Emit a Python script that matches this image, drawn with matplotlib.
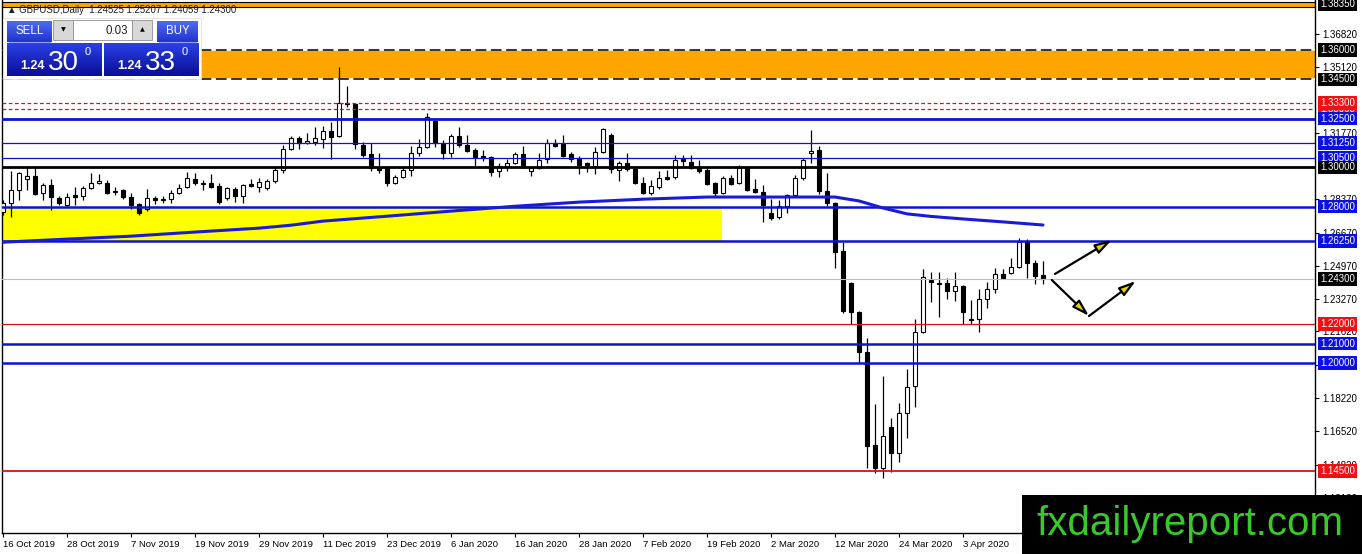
import numpy as np
import matplotlib
matplotlib.use('Agg')
import matplotlib.pyplot as plt
from matplotlib.patches import Rectangle
from matplotlib.transforms import blended_transform_factory
from matplotlib.colors import LinearSegmentedColormap

plt.rcParams['font.family'] = ['Liberation Sans', 'DejaVu Sans']

# GBPUSD daily candles, 16 Oct 2019 .. 17 Apr 2020
opens = [1.2773, 1.2819, 1.2885, 1.2941, 1.2957, 1.2870, 1.2911, 1.2844, 1.2808, 1.2860,
         1.2854, 1.2895, 1.2921, 1.2921, 1.2880, 1.2885, 1.2849, 1.2814, 1.2788, 1.2844,
         1.2839, 1.2839, 1.2870, 1.2900, 1.2941, 1.2921, 1.2921, 1.2905, 1.2844, 1.2890,
         1.2854, 1.2916, 1.2900, 1.2895, 1.2931, 1.2987, 1.3095, 1.3151, 1.3125, 1.3130,
         1.3146, 1.3187, 1.3161, 1.3330, 1.3325, 1.3115, 1.3069, 1.2998, 1.2998, 1.2921,
         1.2952, 1.2987, 1.3074, 1.3105, 1.3238, 1.3125, 1.3074, 1.3161, 1.3115, 1.3089,
         1.3059, 1.3054, 1.2982, 1.3008, 1.3023, 1.3069, 1.2982, 1.2998, 1.3044, 1.3125,
         1.3120, 1.3069, 1.3049, 1.3023, 1.3008, 1.3079, 1.3166, 1.2987, 1.3023, 1.2992,
         1.2921, 1.2870, 1.2900, 1.2952, 1.2952, 1.3044, 1.3028, 1.2998, 1.2987, 1.2921,
         1.2870, 1.2946, 1.2921, 1.2998, 1.2890, 1.2875, 1.2768, 1.2747, 1.2803, 1.2860,
         1.2946, 1.3074, 1.3089, 1.2880, 1.2819, 1.2573, 1.2410, 1.2262, 1.2057, 1.1582,
         1.1465, 1.1674, 1.1541, 1.1746, 1.1884, 1.2160, 1.2425, 1.2410, 1.2410, 1.2369,
         1.2395, 1.2226, 1.2226, 1.2328, 1.2379, 1.2456, 1.2461, 1.2492, 1.2619, 1.2512,
         1.24525]
highs = [1.2834, 1.2982, 1.2977, 1.3008, 1.3003, 1.2921, 1.2941, 1.2854, 1.2870, 1.2900,
         1.2905, 1.2972, 1.2967, 1.2936, 1.2900, 1.2890, 1.2870, 1.2819, 1.2890, 1.2854,
         1.2854, 1.2885, 1.2916, 1.2977, 1.2972, 1.2936, 1.2967, 1.2921, 1.2900, 1.2900,
         1.2916, 1.2941, 1.2946, 1.2941, 1.3003, 1.3115, 1.3161, 1.3161, 1.3176, 1.3207,
         1.3212, 1.3233, 1.3514, 1.3417, 1.3330, 1.3130, 1.3125, 1.3074, 1.3003, 1.2962,
         1.3008, 1.3110, 1.3146, 1.3279, 1.3243, 1.3141, 1.3171, 1.3207, 1.3166, 1.3100,
         1.3089, 1.3059, 1.3023, 1.3044, 1.3079, 1.3110, 1.3003, 1.3074, 1.3146, 1.3146,
         1.3166, 1.3079, 1.3059, 1.3028, 1.3105, 1.3202, 1.3176, 1.3033, 1.3074, 1.2998,
         1.2952, 1.2936, 1.2982, 1.2987, 1.3064, 1.3064, 1.3064, 1.3038, 1.3008, 1.2926,
         1.2957, 1.2962, 1.3013, 1.3003, 1.2941, 1.2911, 1.2839, 1.2834, 1.2865, 1.2962,
         1.3049, 1.3192, 1.3110, 1.2972, 1.2824, 1.2619, 1.2415, 1.2267, 1.2129, 1.1792,
         1.1935, 1.1720, 1.1797, 1.1970, 1.2226, 1.2481, 1.2466, 1.2466, 1.2435, 1.2466,
         1.2400, 1.2323, 1.2379, 1.2415, 1.2487, 1.2481, 1.2538, 1.2640, 1.2635, 1.2527,
         1.25207]
lows = [1.2757, 1.2747, 1.2834, 1.2885, 1.2860, 1.2834, 1.2783, 1.2808, 1.2798, 1.2808,
        1.2834, 1.2890, 1.2916, 1.2865, 1.2860, 1.2839, 1.2788, 1.2757, 1.2778, 1.2814,
        1.2819, 1.2819, 1.2865, 1.2895, 1.2911, 1.2885, 1.2895, 1.2814, 1.2834, 1.2824,
        1.2819, 1.2900, 1.2875, 1.2885, 1.2921, 1.2972, 1.3089, 1.3095, 1.3120, 1.3115,
        1.3100, 1.3044, 1.3156, 1.3309, 1.3095, 1.3054, 1.2982, 1.2972, 1.2905, 1.2916,
        1.2946, 1.2957, 1.3059, 1.3100, 1.3105, 1.3044, 1.3054, 1.3105, 1.3079, 1.3003,
        1.3033, 1.2957, 1.2952, 1.2982, 1.3018, 1.2998, 1.2957, 1.2992, 1.3023, 1.3105,
        1.3054, 1.3028, 1.2967, 1.2977, 1.2967, 1.3074, 1.2972, 1.2931, 1.2982, 1.2916,
        1.2865, 1.2860, 1.2890, 1.2936, 1.2941, 1.3003, 1.2992, 1.2972, 1.2911, 1.2849,
        1.2865, 1.2911, 1.2916, 1.2880, 1.2870, 1.2722, 1.2732, 1.2737, 1.2768, 1.2849,
        1.2936, 1.3023, 1.2865, 1.2803, 1.2487, 1.2257, 1.2200, 1.2001, 1.1465, 1.1439,
        1.1413, 1.1444, 1.1495, 1.1618, 1.1776, 1.2154, 1.2313, 1.2236, 1.2328, 1.2318,
        1.2200, 1.2200, 1.2160, 1.2282, 1.2359, 1.2430, 1.2456, 1.2487, 1.2435, 1.2405,
        1.24059]
closes = [1.2819, 1.2885, 1.2972, 1.2957, 1.2865, 1.2911, 1.2849, 1.2819, 1.2849, 1.2849,
          1.2895, 1.2921, 1.2931, 1.2870, 1.2875, 1.2849, 1.2808, 1.2768, 1.2844, 1.2834,
          1.2834, 1.2870, 1.2895, 1.2946, 1.2921, 1.2916, 1.2900, 1.2824, 1.2895, 1.2854,
          1.2911, 1.2905, 1.2926, 1.2931, 1.2987, 1.3095, 1.3151, 1.3125, 1.3136, 1.3151,
          1.3187, 1.3156, 1.3330, 1.3325, 1.3120, 1.3064, 1.2998, 1.2987, 1.2921, 1.2952,
          1.2987, 1.3074, 1.3105, 1.3258, 1.3125, 1.3074, 1.3161, 1.3115, 1.3084, 1.3054,
          1.3049, 1.2977, 1.3008, 1.3023, 1.3069, 1.3003, 1.2998, 1.3038, 1.3125, 1.3110,
          1.3059, 1.3044, 1.3013, 1.3013, 1.3079, 1.3197, 1.2992, 1.3023, 1.2992, 1.2921,
          1.2870, 1.2905, 1.2946, 1.2941, 1.3038, 1.3033, 1.2998, 1.2982, 1.2916, 1.2870,
          1.2946, 1.2916, 1.2998, 1.2885, 1.2875, 1.2808, 1.2742, 1.2803, 1.2860, 1.2946,
          1.3038, 1.3084, 1.2880, 1.2819, 1.2568, 1.2267, 1.2262, 1.2057, 1.1577, 1.1465,
          1.1628, 1.1541, 1.1746, 1.1878, 1.2160, 1.2441, 1.2415, 1.2405, 1.2369, 1.2395,
          1.2262, 1.2221, 1.2328, 1.2379, 1.2456, 1.2435, 1.2492, 1.2619, 1.2512, 1.2446,
          1.24300]

date_labels = ['16 Oct 2019', '28 Oct 2019', '7 Nov 2019', '19 Nov 2019', '29 Nov 2019',
               '11 Dec 2019', '23 Dec 2019', '6 Jan 2020', '16 Jan 2020', '28 Jan 2020',
               '7 Feb 2020', '19 Feb 2020', '2 Mar 2020', '12 Mar 2020', '24 Mar 2020',
               '3 Apr 2020']
bars_per_label = 8

# moving average, sampled along the bars
ma_bars = [0, 8, 16, 24, 32, 36, 40, 48, 56, 64, 72, 80, 88, 96, 104, 107, 110, 113, 116, 120, 125, 130]
ma_vals = [1.2618, 1.2634, 1.2649, 1.2670, 1.2690, 1.2705, 1.2726, 1.2751, 1.2777, 1.2802, 1.2823,
           1.2838, 1.2849, 1.2849, 1.2849, 1.2829, 1.2793, 1.2763, 1.2750, 1.2737, 1.2722, 1.2706]

# horizontal levels
level_prices = [1.3600, 1.3450, 1.3330, 1.3300, 1.3250, 1.3125, 1.3050, 1.3000,
                1.2800, 1.2625, 1.2430, 1.2200, 1.2100, 1.2000, 1.1450]
BLUE = '#0c14d0'
RED = '#d01515'
level_colors = ['black', 'black', RED, RED, BLUE, BLUE, BLUE, 'black',
                BLUE, BLUE, '#bdbdbd', RED, BLUE, BLUE, RED]
level_widths = [1.1, 1.1, 0.9, 0.9, 2.0, 0.9, 0.9, 2.0, 1.8, 1.8, 0.8, 0.9, 1.8, 1.8, 1.3]
level_styles = [(0, (7, 3)), (0, (7, 3)), (0, (3, 2)), (0, (3, 2)), '-', '-', '-', '-',
                '-', '-', '-', '-', '-', '-', '-']

# zones
supply_zone = (1.3450, 1.3600)
demand_zone = (1.2625, 1.2800)
demand_zone_end = 89.9
top_band = (1.3820, 1.3846)

# right-hand price tags
tag_prices = [1.38350, 1.36000, 1.34500, 1.33000, 1.33300, 1.32500, 1.31250, 1.30500,
              1.30000, 1.28000, 1.26250, 1.24300, 1.22000, 1.21000, 1.20000, 1.14500]
tag_colors = ['black', 'black', 'black', '#ee1111', '#ee1111', '#0a10e0', '#0a10e0', '#0a10e0',
              'black', '#0a10e0', '#0a10e0', 'black', '#ee1111', '#0a10e0', '#0a10e0', '#ee1111']
scale_ticks = [1.36820, 1.35120, 1.31770, 1.28370, 1.26670, 1.24970, 1.23270, 1.21620,
               1.19920, 1.18220, 1.16520, 1.14820, 1.13120]

# projection arrows (bar index, price)
arrow_paths = [((131.5, 1.2456), (138.6, 1.2630)),
               ((131.1, 1.2425), (135.75, 1.2241)),
               ((135.75, 1.2241), (141.6, 1.2420))]

W, H = 1362, 554
fig = plt.figure(figsize=(W / 100, H / 100), dpi=100)
fig.patch.set_facecolor('white')
ax = fig.add_axes([2 / W, 21 / H, 1313 / W, 533 / H])
ax.set_xlim(-0.125, 164)
ax.set_ylim(1.1132, 1.3856)

# background zones
ax.axhspan(*supply_zone, color='#ffa500', zorder=1, lw=0)
ax.axhspan(*top_band, fc='#ffa500', ec='black', lw=0.8, zorder=1)
ax.add_patch(Rectangle((-0.6, demand_zone[0]), demand_zone_end + 0.6,
                       demand_zone[1] - demand_zone[0], fc='#ffff00', ec='none', zorder=1))

# candles
x = np.arange(len(opens))
o = np.array(opens)
c = np.array(closes)
up = c >= o
ax.vlines(x, lows, highs, color='black', lw=0.9, zorder=3)
body_lo = np.minimum(o, c)
body_h = np.maximum(np.abs(c - o), 0.00004)
ax.bar(x, body_h, bottom=body_lo, width=0.6, color=np.where(up, 'white', 'black'),
       edgecolor='black', linewidth=0.8, zorder=4)

# levels
for p, col, lw, ls in zip(level_prices, level_colors, level_widths, level_styles):
    if col == 'black' and ls != '-':
        ax.axhline(p, color='white', lw=lw, zorder=5)
    ax.axhline(p, color=col, lw=lw, ls=ls, zorder=5)

ax.plot(ma_bars, ma_vals, color='#1a1ad8', lw=2.2, zorder=6, solid_capstyle='round')

for (x0, y0), (x1, y1) in arrow_paths:
    ax.annotate('', xy=(x1, y1), xytext=(x0, y0),
                arrowprops=dict(arrowstyle='-|>,head_length=1.0,head_width=0.3',
                                fc='#e3d400', ec='black', lw=1.6,
                                shrinkA=0, shrinkB=0, mutation_scale=10),
                zorder=7, annotation_clip=False)

# axes frame and scales
for s in ['left', 'bottom', 'right']:
    ax.spines[s].set_color('black')
    ax.spines[s].set_linewidth(1)
ax.spines['top'].set_visible(False)
ax.set_facecolor('white')

ax.yaxis.tick_right()
ax.set_yticks(scale_ticks)
ax.set_yticklabels(['%.5f' % v for v in scale_ticks])
ax.tick_params(axis='y', length=3, width=0.8, labelsize=7, pad=2, colors='black')

ax.set_xticks(np.arange(len(date_labels)) * bars_per_label)
ax.set_xticklabels(date_labels, ha='left')
ax.tick_params(axis='x', length=3, width=0.8, labelsize=6.8, pad=2)

tr = blended_transform_factory(ax.transAxes, ax.transData)
for p, col in zip(tag_prices, tag_colors):
    ax.text(1.0038, p, '%.5f' % p, transform=tr, color='white', fontsize=7,
            va='center', ha='left', clip_on=False, zorder=10,
            bbox=dict(boxstyle='square,pad=0.18', fc=col, ec='none'))

# overlay: title, trade panel, watermark
ov = fig.add_axes([0, 0, 1, 1], zorder=20)
ov.patch.set_alpha(0)
ov.axis('off')


def grad_box(x0, y0, x1, y1, top, bottom):
    cmap = LinearSegmentedColormap.from_list('g', [top, bottom])
    g = np.linspace(0, 1, 40).reshape(-1, 1)
    ov.imshow(g, cmap=cmap, extent=(x0, x1, y1, y0), aspect='auto',
              interpolation='bilinear', zorder=2)


ov.text(7, 10, '▲ GBPUSD,Daily  1.24525 1.25207 1.24059 1.24300', fontsize=6.9,
        va='center', ha='left', color='#202020')

ov.add_patch(Rectangle((3, 18), 198, 61, fc='white', ec='#e0e0e0', lw=0.6, zorder=1))
grad_box(7, 21, 52, 42, '#4e6cf0', '#2233cc')
grad_box(157, 21, 198, 42, '#4e6cf0', '#2233cc')
ov.plot([9, 50], [41.5, 41.5], color='#8ea0f8', lw=0.8, zorder=3)
ov.plot([159, 196], [41.5, 41.5], color='#8ea0f8', lw=0.8, zorder=3)
ov.text(29.5, 31, 'SELL', color='white', fontsize=8.3, ha='center', va='center', zorder=4)
ov.text(177.5, 31, 'BUY', color='white', fontsize=8.3, ha='center', va='center', zorder=4)
ov.add_patch(Rectangle((53, 20), 20, 20, fc='#d8d8d8', ec='#909090', lw=0.6, zorder=2))
ov.add_patch(Rectangle((73, 20), 59, 20, fc='white', ec='#909090', lw=0.6, zorder=2))
ov.add_patch(Rectangle((132, 20), 20, 20, fc='#d8d8d8', ec='#909090', lw=0.6, zorder=2))
ov.text(63, 30, '▼', fontsize=4.5, ha='center', va='center', family='DejaVu Sans', zorder=4)
ov.text(142, 30, '▲', fontsize=4.5, ha='center', va='center', family='DejaVu Sans', zorder=4)
ov.text(128, 30.5, '0.03', fontsize=8.3, ha='right', va='center', color='#202020', zorder=4)

for bx, big in [(7, '30'), (104, '33')]:
    grad_box(bx, 43, bx + 95, 76, '#2a40e6', '#0b0e96')
    ov.text(bx + 13, 69, '1.24', color='white', fontsize=9, fontweight='bold',
            ha='left', va='baseline', zorder=4)
    ov.text(bx + 41, 70, big, color='white', fontsize=20, ha='left', va='baseline', zorder=4)
    ov.text(bx + 78, 55, '0', color='white', fontsize=8, ha='left', va='baseline', zorder=4)

ov.add_patch(Rectangle((1022, 495), 340, 59, fc='black', ec='none', zorder=5))
ov.text(1036, 535, 'fxdailyreport.com', color='#38c92a', fontsize=29,
        ha='left', va='baseline', zorder=6)

ov.set_xlim(0, W)
ov.set_ylim(H, 0)

fig.savefig('out.png', dpi=100)
